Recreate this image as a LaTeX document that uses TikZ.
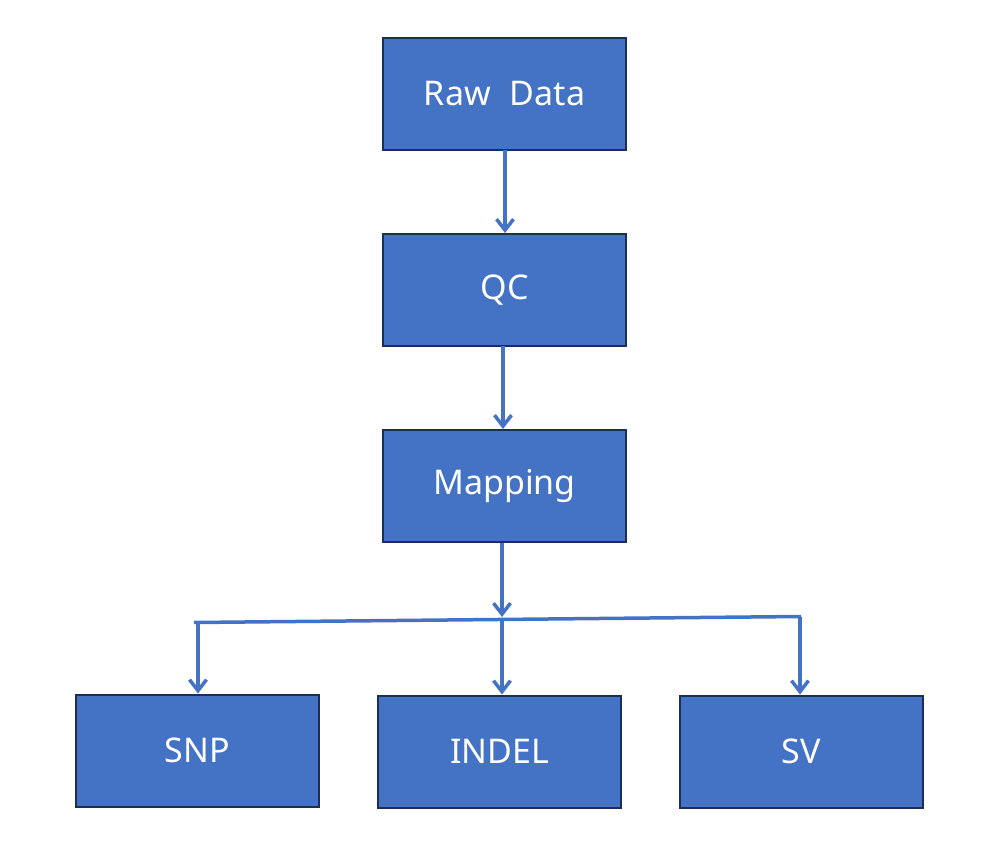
\documentclass[tikz,border=0pt]{standalone}
\usepackage{fontspec}
\setmainfont{Noto Sans}
\usetikzlibrary{arrows.meta}
\definecolor{boxblue}{HTML}{4472C4}
\definecolor{boxedge}{HTML}{1B2E55}
\begin{document}
\begin{tikzpicture}[x=1pt,y=-1pt,
  box/.style={draw=boxedge,line width=2pt,fill=boxblue,text=white,
    minimum width=243pt,minimum height=112pt,inner sep=0pt,
    font=\fontsize{34}{40}\selectfont},
  conn/.style={draw=boxblue,line width=3.5pt},
  arr/.style={conn,-{Straight Barb[length=11pt,width=17pt]}}]
\useasboundingbox (0,0) rectangle (991,861);
\node[box] (raw) at (504.5,94) {Raw\hspace{0.3em} Data};
\node[box] (qc) at (504.5,290) {QC};
\node[box] (map) at (504.5,486) {Mapping};
\node[box] (snp) at (197.5,750.5) {SNP};
\node[box] (indel) at (499.5,751.5) {INDEL};
\node[box] (sv) at (801,751.5) {SV};
\coordinate (jl) at (194,622.5);
\coordinate (jr) at (801,616.5);
\coordinate (jm) at (502,617);
\coordinate (jmb) at (502,619.5);
\coordinate (jlb) at (198,622.5);
\coordinate (jrb) at (800,616.5);
\draw[arr] (505,150) -- (505,233);
\draw[arr] (503,346) -- (503,429);
\draw[arr] (map.south -| jm) -- (jm);
\draw[conn] (jl) -- (jr);
\draw[arr] (jlb) -- (jlb |- snp.north);
\draw[arr] (jmb) -- (jmb |- indel.north);
\draw[arr] (jrb) -- (jrb |- sv.north);
\end{tikzpicture}
\end{document}
